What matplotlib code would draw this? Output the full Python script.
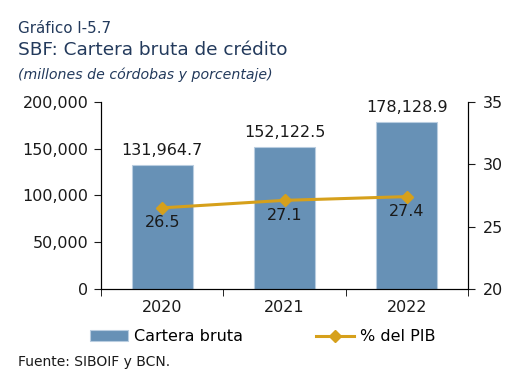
import matplotlib
matplotlib.use("Agg")
from matplotlib import pyplot as plt
import numpy as np

years = ['2020', '2021', '2022']
cartera = [131964.7, 152122.5, 178128.9]
pct_pib = [26.5, 27.1, 27.4]
left_ticks = [0, 50000, 100000, 150000, 200000]
right_ticks = [20, 25, 30, 35]

bar_color = '#6791b6'
line_color = '#d6a01b'
text_color = '#1a1a1a'
title_color = '#233a5c'

plt.rcParams['font.family'] = ['DejaVu Sans']

fig = plt.figure(figsize=(5.18, 3.86), dpi=100)
ax = fig.add_axes([0.195, 0.2513, 0.7085, 0.4852])
x = np.arange(len(years))

bars = ax.bar(x, cartera, width=0.5, color=bar_color, edgecolor='#b9cde0',
              linewidth=0.8, label='Cartera bruta', zorder=2)
ax.set_xlim(-0.5, 2.5)
ax.set_ylim(0, 200000)
ax.set_yticks(left_ticks)
ax.set_yticklabels([f'{v:,}' for v in left_ticks])
ax.set_xticks(x)
ax.set_xticklabels(years)
ax.set_xticks([-0.5, 0.5, 1.5, 2.5], minor=True)
ax.tick_params(axis='x', which='major', length=0, pad=8)
ax.tick_params(axis='x', which='minor', length=5, direction='out')
ax.tick_params(axis='y', length=5, direction='out', pad=4)
ax.tick_params(labelsize=11.5, colors=text_color)
ax.spines['top'].set_visible(False)

for xi, v in zip(x, cartera):
    ax.text(xi, v + 7500, f'{v:,.1f}', ha='center', va='bottom',
            fontsize=11.5, color=text_color)

ax2 = ax.twinx()
ax2.set_ylim(20, 35)
ax2.set_yticks(right_ticks)
ax2.tick_params(axis='y', length=5, direction='out', labelsize=11.5,
                colors=text_color, pad=6)
ax2.spines['top'].set_visible(False)
line, = ax2.plot(x, pct_pib, color=line_color, linewidth=2.2, marker='D',
                 markersize=6, label='% del PIB', zorder=3)
for xi, v in zip(x, pct_pib):
    ax2.text(xi, v - 0.6, f'{v:.1f}', ha='center', va='top',
             fontsize=11.5, color=text_color)

fig.legend([bars, line], ['Cartera bruta', '% del PIB'], loc='center',
           bbox_to_anchor=(0.507, 0.127), ncol=2, frameon=False,
           fontsize=11.5, handlelength=2.4, columnspacing=4.6,
           handletextpad=0.35)

fig.text(0.035, 0.925, 'Gráfico I-5.7', fontsize=10.9, color=title_color,
         va='center')
fig.text(0.035, 0.87, 'SBF: Cartera bruta de crédito', fontsize=13.3,
         color=title_color, va='center')
fig.text(0.035, 0.807, '(millones de córdobas y porcentaje)', fontsize=10.2,
         color=title_color, style='italic', va='center')
fig.text(0.035, 0.063, 'Fuente: SIBOIF y BCN.', fontsize=10,
         color=text_color, va='center')

fig.savefig('out.png', dpi=100)
